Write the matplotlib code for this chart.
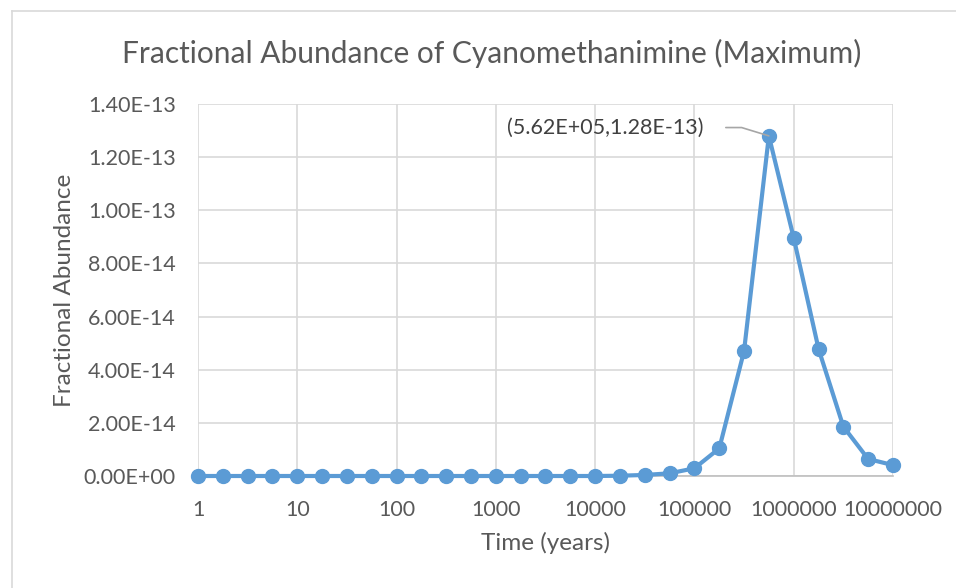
import matplotlib
matplotlib.use("Agg")
import matplotlib.pyplot as plt
from matplotlib.lines import Line2D
from matplotlib.ticker import FixedLocator, FuncFormatter

# Data
time_years = [1, 1.78, 3.16, 5.62, 10, 17.8, 31.6, 56.2, 100, 178, 316, 562,
              1000, 1780, 3160, 5620, 10000, 17800, 31600, 56200,
              1.0e5, 1.78e5, 3.16e5, 5.62e5, 1.0e6, 1.78e6, 3.16e6, 5.62e6, 1.0e7]
abundance = [0, 0, 0, 0, 0, 0, 0, 0, 0, 0, 0, 0,
             0, 0, 0, 0, 0.0e-14, 0.01e-14, 0.04e-14, 0.1e-14,
             0.29e-14, 1.04e-14, 4.70e-14, 1.28e-13, 8.96e-14, 4.78e-14, 1.86e-14, 0.64e-14, 0.41e-14]
x_ticks = [1, 10, 100, 1000, 10000, 100000, 1000000, 10000000]
y_ticks = [0, 2e-14, 4e-14, 6e-14, 8e-14, 1.0e-13, 1.2e-13, 1.4e-13]
title = "Fractional Abundance of Cyanomethanimine (Maximum)"
peak_label = "(5.62E+05,1.28E-13)"
peak_index = 23

plt.rcParams['font.family'] = ['Lato', 'DejaVu Sans']
fig = plt.figure(figsize=(9.56, 5.88), dpi=100)
fig.patch.set_facecolor('white')
# chart area border (only top and left visible in the reference)
bx, by = 12/956, 1-11/588
fig.add_artist(Line2D([bx, 1], [by, by], transform=fig.transFigure,
                      color='#d9d9d9', linewidth=1.2))
fig.add_artist(Line2D([bx, bx], [0, by], transform=fig.transFigure,
                      color='#d9d9d9', linewidth=1.2))

ax = fig.add_axes([198/956, 1-476/588, (893-198)/956, (476-104)/588])
color = '#5b9bd5'
ax.plot(time_years, abundance, color=color, linewidth=3, marker='o',
        markersize=10, zorder=3, clip_on=False)
ax.set_xscale('log')
ax.set_xlim(1, 1e7)
ax.set_ylim(0, 1.4e-13)
ax.xaxis.set_major_locator(FixedLocator(x_ticks))
ax.xaxis.set_minor_locator(FixedLocator([]))
ax.xaxis.set_major_formatter(FuncFormatter(lambda v, p: f"{int(round(v))}"))
ax.yaxis.set_major_locator(FixedLocator(y_ticks))
ax.yaxis.set_major_formatter(FuncFormatter(lambda v, p: f"{v:.2E}"))
ax.grid(True, color='#d9d9d9', linewidth=1.2, zorder=0)
for s in ['top', 'right', 'left']:
    ax.spines[s].set_visible(False)
ax.spines['bottom'].set_color('#bfbfbf')
ax.spines['bottom'].set_linewidth(1.2)
ax.tick_params(axis='both', length=0, labelsize=15.5, colors='#595959')
ax.tick_params(axis='x', pad=17.5)
ax.tick_params(axis='y', pad=16)
ax.set_xlabel("Time (years)", fontsize=17.5, color='#595959', labelpad=8)
ax.set_ylabel("Fractional Abundance", fontsize=17.5, color='#595959', labelpad=6)
fig.text(492/956, 1-53/588, title, fontsize=21.5, color='#595959',
         ha='center', va='center')

# peak annotation
ax.annotate(peak_label, xy=(time_years[peak_index], abundance[peak_index]),
            xytext=(-47, 6), textcoords='offset points', ha='right', va='center',
            fontsize=15.5, color='#404040',
            arrowprops=dict(arrowstyle='-', color='#a6a6a6', linewidth=1.2,
                            shrinkA=14, shrinkB=0, relpos=(1, 0.5),
                            connectionstyle='angle,angleA=0,angleB=-17,rad=0'))

fig.savefig("out.png", dpi=100, facecolor='white')
